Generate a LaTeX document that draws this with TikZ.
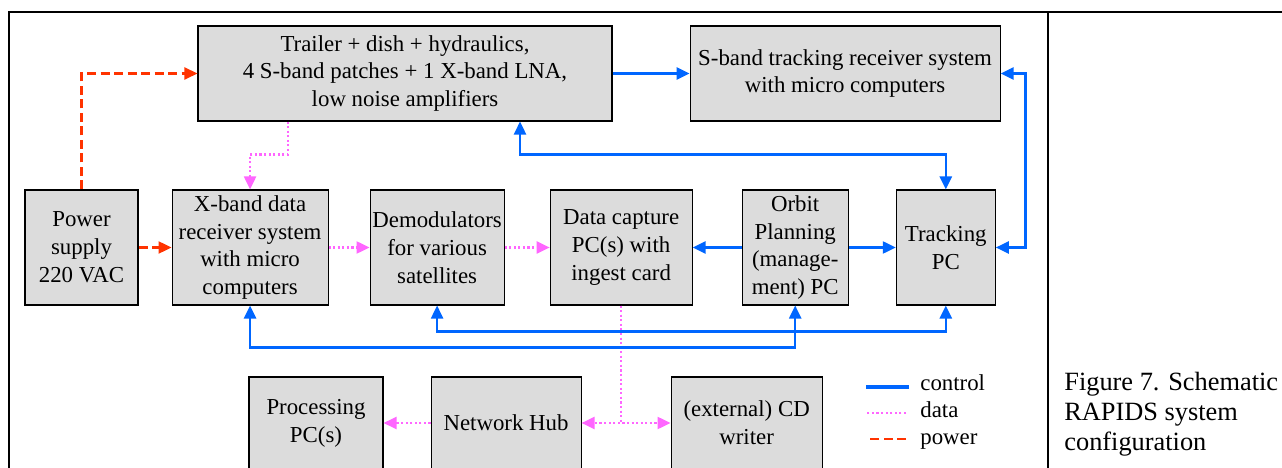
\documentclass[tikz,border=0pt]{standalone}
\usepackage{fontspec}
\setmainfont{Liberation Serif}
\usetikzlibrary{arrows.meta, positioning}
\definecolor{ctrlblue}{RGB}{0,102,255}
\definecolor{datapink}{RGB}{255,102,255}
\definecolor{powerred}{RGB}{255,51,0}
\definecolor{boxgray}{RGB}{220,220,220}

\begin{document}
\begin{tikzpicture}[
            >={Triangle[length=0.26cm, width=0.24cm]},
            box/.style={draw=black, fill=boxgray, line width=0.6pt, inner sep=1pt, align=center, font=\fontsize{13}{15.9}\selectfont},
            toprow/.style={box, minimum height=1.9cm},
            midrow/.style={box, minimum height=2.3cm},
            lowrow/.style={box, minimum height=1.84cm},
            ctrlline/.style={draw=ctrlblue, line width=1.4pt},
            dataline/.style={draw=datapink, line width=1.2pt, dash pattern=on 1.2pt off 1.4pt},
            powerline/.style={draw=powerred, line width=1.3pt, dash pattern=on 0.18cm off 0.09cm},
            legend/.style={anchor=base west, inner sep=0pt, font=\fontsize{13}{15.9}\selectfont}
        ]
            \useasboundingbox (0,0) rectangle (25.64,-9.36);

            % Frame
            \draw[line width=0.6pt] (0.18,-9.36) -- (0.18,-0.24) -- (25.64,-0.24);
            \draw[line width=0.6pt] (20.96,-0.24) -- (20.96,-9.36);

            \node[toprow, minimum width=8.28cm] (trailer) at (8.1,-1.47) {Trailer + dish + hydraulics,\\ 4 S-band patches + 1 X-band LNA,\\ low noise amplifiers};
            \node[toprow, minimum width=6.2cm, right=1.54cm of trailer] (sband) {S-band tracking receiver system\\ with micro computers};

            \node[midrow, minimum width=2.26cm] (power) at (1.63,-4.95) {Power\\ supply\\ 220 VAC};
            \node[midrow, minimum width=3.12cm, right=0.66cm of power] (xband) {X-band data\\ receiver system\\ with micro\\ computers};
            \node[midrow, minimum width=2.68cm, right=0.82cm of xband] (demod) {Demodulators\\ for various\\ satellites};
            \node[midrow, minimum width=2.84cm, right=0.9cm of demod] (capture) {Data capture\\ PC(s) with\\ ingest card};
            \node[midrow, minimum width=2.12cm, right=0.98cm of capture] (orbit) {Orbit\\ Planning\\ (manage-\\ ment) PC};
            \node[midrow, minimum width=1.98cm, right=0.94cm of orbit] (tracking) {Tracking\\ PC};

            \node[lowrow, minimum width=2.68cm] (proc) at (6.32,-8.46) {Processing\\ PC(s)};
            \node[lowrow, minimum width=3.0cm, right=0.94cm of proc] (hub) {Network Hub};
            \node[lowrow, minimum width=3.02cm, right=1.78cm of hub] (cd) {(external) CD\\ writer};

            % Connections
            \draw[powerline, ->] (power.north) |- (trailer.west);
            \draw[powerline, ->] (power) -- (xband);

            \draw[dataline, ->] ([xshift=-2.34cm]trailer.south) -- ++(0,-0.66) -| (xband.north);
            \draw[dataline, ->] (xband) -- (demod);
            \draw[dataline, ->] (demod) -- (capture);
            \draw[dataline, ->] (capture.south) |- (hub.east);
            \draw[dataline, ->] (capture.south) |- (cd.west);
            \draw[dataline, ->] (hub) -- (proc);

            \draw[ctrlline, ->] (trailer) -- (sband);
            \draw[ctrlline, <->] (sband.east) -- ++(0.5,0) |- (tracking.east);
            \draw[ctrlline, <->] ([xshift=2.3cm]trailer.south) -- ++(0,-0.66) -| (tracking.north);
            \draw[ctrlline, ->] (orbit) -- (capture);
            \draw[ctrlline, ->] (orbit) -- (tracking);
            \draw[ctrlline, <->] (demod.south) -- ++(0,-0.52) -| (tracking.south);
            \draw[ctrlline, <->] (xband.south) -- ++(0,-0.84) -| (orbit.south);

            % Legend
            \node[legend] (lctrl) at (18.4,-7.8) {control};
            \node[legend] (ldata) at (18.4,-8.34) {data};
            \node[legend] (lpower) at (18.4,-8.88) {power};
            \draw[draw=ctrlblue, line width=1.8pt] ([shift={(-0.22,0.06)}]lctrl.base west) -- ++(-0.86,0);
            \draw[dataline] ([shift={(-0.28,0.08)}]ldata.base west) -- ++(-0.8,0);
            \draw[powerline] ([shift={(-0.28,0.1)}]lpower.base west) -- ++(-0.8,0);

            \node[anchor=north west, inner sep=0pt, align=left, font=\fontsize{15}{17.1}\selectfont] (caption) at (21.28,-7.44) {Figure 7. Schematic\\ RAPIDS system\\ configuration};
        \end{tikzpicture}
\end{document}
